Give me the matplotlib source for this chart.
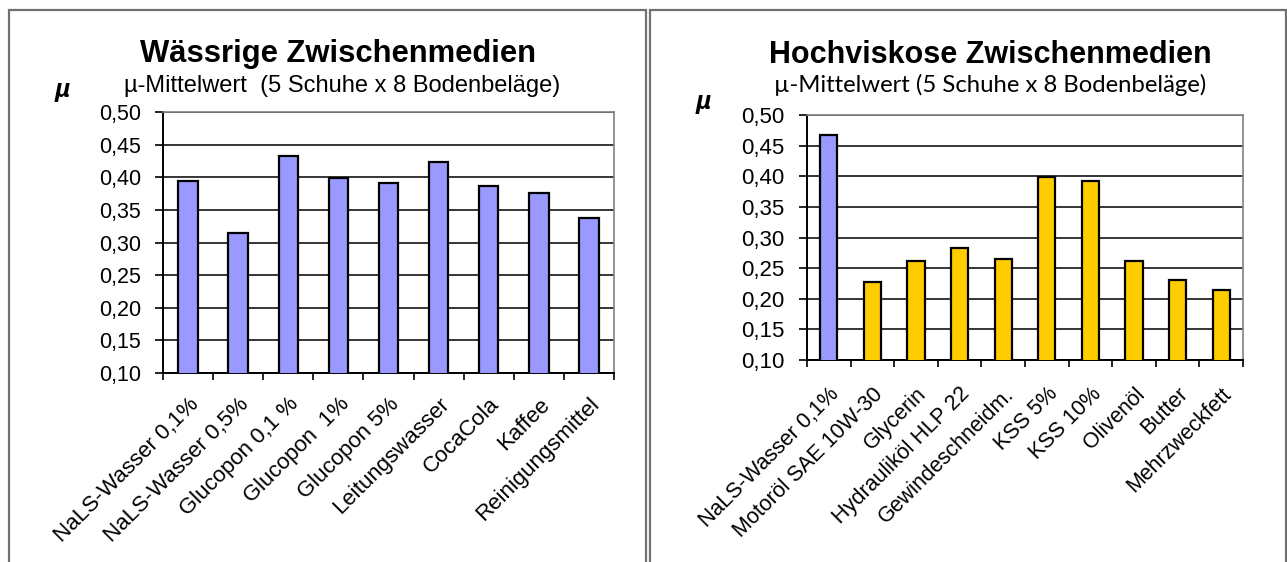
# Reibwerte: waessrige und hochviskose Zwischenmedien
import numpy as np
import matplotlib
matplotlib.use("Agg")
import matplotlib.pyplot as plt
from matplotlib.ticker import FuncFormatter, FixedLocator
from matplotlib.patches import Rectangle

plt.rcParams['font.family'] = ['Liberation Sans', 'DejaVu Sans']

# --- Daten ---
wass_labels = ['NaLS-Wasser 0,1%', 'NaLS-Wasser 0,5%', 'Glucopon 0,1 %', 'Glucopon  1%',
               'Glucopon 5%', 'Leitungswasser', 'CocaCola', 'Kaffee', 'Reinigungsmittel']
wass_mu = [0.395, 0.315, 0.432, 0.399, 0.391, 0.424, 0.386, 0.376, 0.337]

visk_labels = ['NaLS-Wasser 0,1%', 'Motoröl SAE 10W-30', 'Glycerin', 'Hydrauliköl HLP 22',
               'Gewindeschneidm.', 'KSS 5%', 'KSS 10%', 'Olivenöl', 'Butter', 'Mehrzweckfett']
visk_mu = [0.468, 0.228, 0.261, 0.283, 0.265, 0.398, 0.393, 0.262, 0.231, 0.215]
visk_farbe = ['#9999FF'] + ['#FFCC00'] * 9

W, H = 1287, 562
fig = plt.figure(figsize=(W / 100, H / 100), dpi=100)

def box(x0, y0, x1, y1):
    # Pixel (oben links) -> Figure-Koordinaten
    return [x0 / W, 1 - y1 / H, (x1 - x0) / W, (y1 - y0) / H]

# Rahmen der beiden Diagramme
for x0, x1 in [(9, 646), (650, 1286)]:
    fig.patches.append(Rectangle((x0 / W, -0.05), (x1 - x0) / W, 1.05 - 9.5 / H,
                                 transform=fig.transFigure, fill=False,
                                 edgecolor='#707070', lw=1.6))

komma = FuncFormatter(lambda v, p: f'{v:.2f}'.replace('.', ','))

def diagramm(ax, labels, werte, farben, fs_x, fs_y, pad_x, pad_y):
    n = len(werte)
    x = np.arange(n)
    ax.bar(x, werte, width=0.39, color=farben, edgecolor='black', lw=1.6, zorder=3)
    ax.set_xlim(-0.5, n - 0.5)
    ax.set_ylim(0.10, 0.50)
    ax.set_yticks(np.arange(0.10, 0.501, 0.05))
    ax.yaxis.set_major_formatter(komma)
    ax.yaxis.grid(True, color='black', lw=1.1, zorder=1)
    ax.set_xticks(x)
    ax.set_xticklabels(labels, rotation=45, ha='right', va='top',
                       rotation_mode='anchor', fontsize=fs_x)
    ax.xaxis.set_minor_locator(FixedLocator(np.arange(n + 1) - 0.5))
    ax.tick_params(axis='x', which='major', length=0, pad=pad_x)
    ax.tick_params(axis='x', which='minor', length=5, width=1.2, direction='out')
    ax.tick_params(axis='y', length=6, width=1.2, direction='out', labelsize=fs_y, pad=pad_y)
    for s in ['top', 'right']:
        ax.spines[s].set_color('#808080')
        ax.spines[s].set_linewidth(1.2)
    for s in ['left', 'bottom']:
        ax.spines[s].set_color('black')
        ax.spines[s].set_linewidth(1.4)

ax1 = fig.add_axes(box(163, 112, 614, 373))
diagramm(ax1, wass_labels, wass_mu, '#9999FF', 16, 15.5, 15, 10)

ax2 = fig.add_axes(box(807, 115, 1243, 360))
diagramm(ax2, visk_labels, visk_mu, visk_farbe, 15.5, 16, 17, 10)

# Titel und Beschriftungen
fig.text(338 / W, 1 - 62 / H, 'Wässrige Zwischenmedien', ha='center', va='baseline',
         fontsize=22.3, fontweight='bold')
fig.text(342 / W, 1 - 92 / H, 'µ-Mittelwert  (5 Schuhe x 8 Bodenbeläge)', ha='center',
         va='baseline', fontsize=17)
fig.text(62 / W, 1 - 97 / H, 'µ', ha='center', va='baseline', fontsize=19,
         fontweight='bold', style='italic')

fig.text(990 / W, 1 - 63 / H, 'Hochviskose Zwischenmedien', ha='center', va='baseline',
         fontsize=22, fontweight='bold')
fig.text(990 / W, 1 - 92 / H, 'µ-Mittelwert (5 Schuhe x 8 Bodenbeläge)', ha='center',
         va='baseline', fontsize=17.2, family=['Lato', 'DejaVu Sans'])
fig.text(703 / W, 1 - 109 / H, 'µ', ha='center', va='baseline', fontsize=19,
         fontweight='bold', style='italic')

fig.savefig('out.png', dpi=100)
